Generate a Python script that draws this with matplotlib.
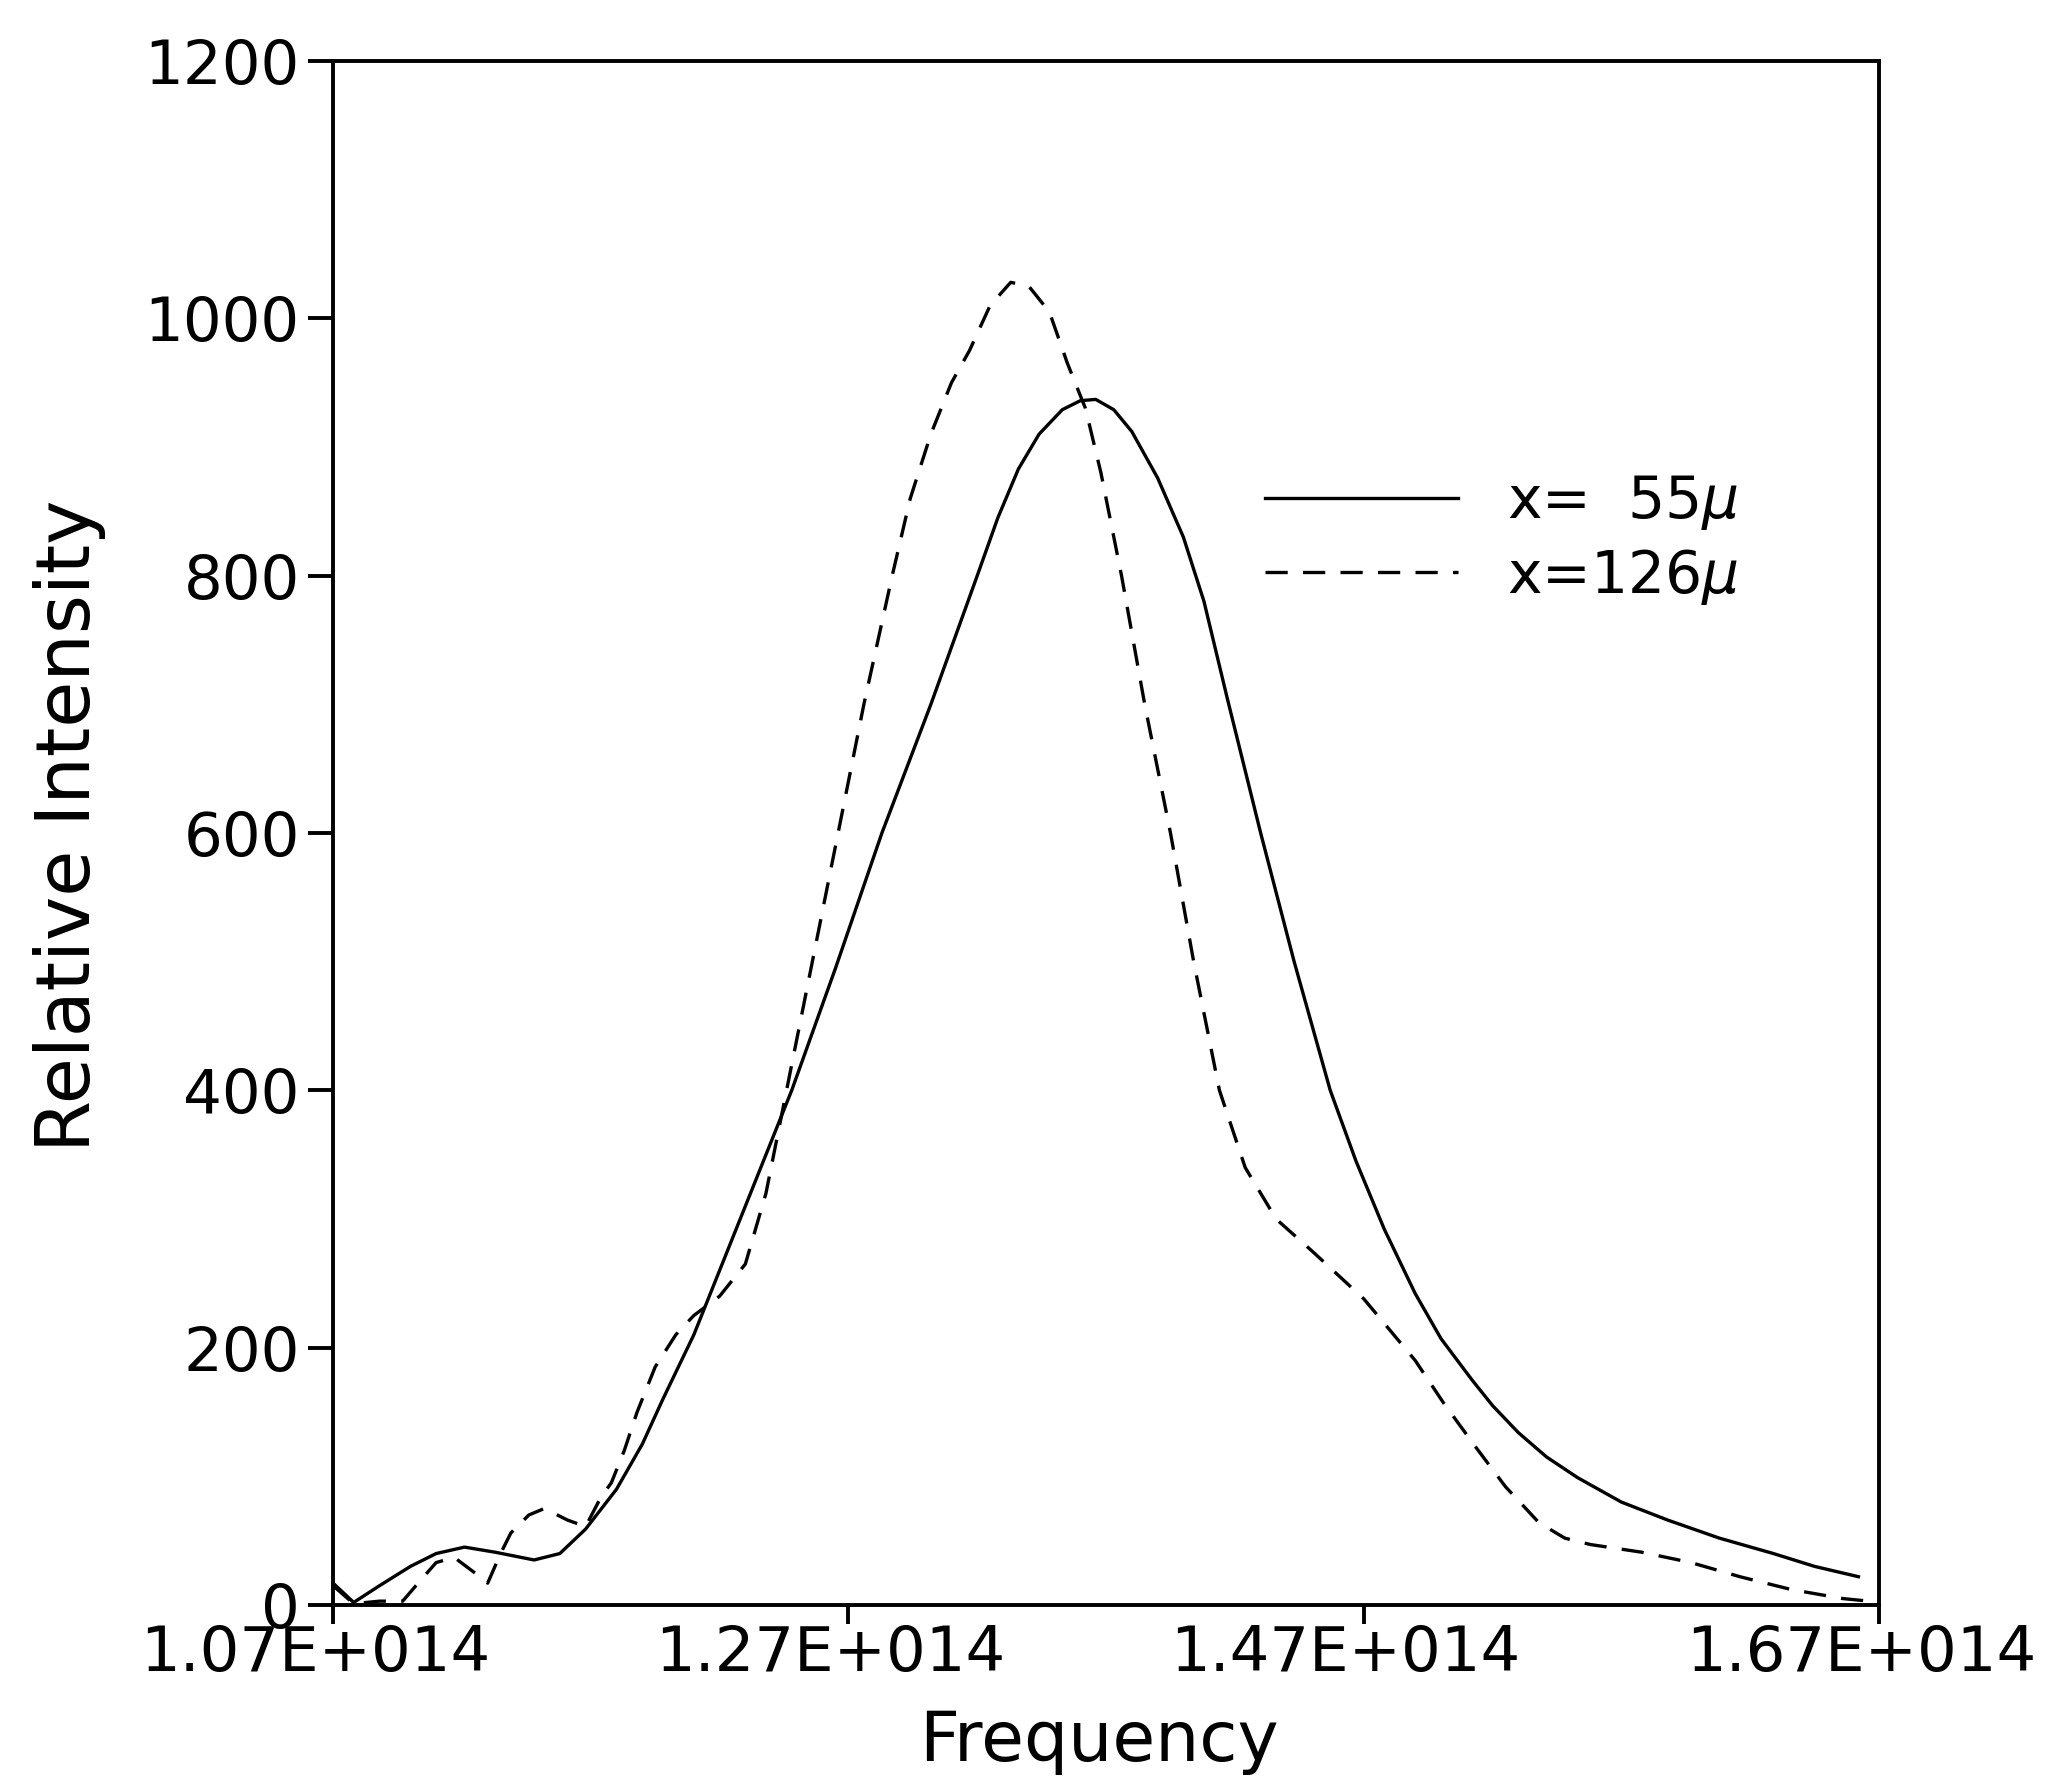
import matplotlib.pyplot as plt
import matplotlib.transforms as mtransforms
import numpy as np

# frequency in units of 1E12 Hz, intensity in arbitrary units
freq_55 = [107.0, 107.8, 108.8, 110.0, 111.0, 112.1, 113.3, 114.8, 115.8, 116.8,
           118.0, 119.0, 119.8, 121.0, 122.5, 124.0, 124.8, 126.5, 128.3, 130.2,
           132.0, 132.8, 133.6, 134.4, 135.3, 136.0, 136.6, 137.3, 138.0, 139.0,
           140.0, 140.8, 141.7, 143.0, 144.3, 145.7, 146.7, 147.8, 149.0, 150.0,
           151.2, 152.0, 153.0, 154.1, 155.3, 157.0, 158.8, 160.8, 162.9, 164.5,
           166.2]
int_55 = [17, 2, 15, 30, 40, 45, 41, 35, 40, 59,
          90, 125, 160, 210, 285, 360, 400, 495, 600, 700,
          800, 845, 883, 910, 929, 936, 937, 929, 912, 876,
          830, 780, 705, 600, 500, 400, 345, 292, 242, 207,
          175, 155, 134, 115, 99, 80, 66, 52, 40, 30,
          22]

freq_126 = [107.0, 107.8, 108.8, 109.7, 110.3, 111.0, 111.7, 112.5, 113.0, 113.5,
            113.9, 114.6, 115.2, 116.1, 116.8, 117.4, 117.8, 118.3, 118.8, 119.5,
            120.3, 121.0, 122.0, 123.0, 123.8, 124.5, 125.0, 125.8, 126.6, 127.6,
            128.7, 129.4, 130.2, 131.0, 131.7, 132.5, 133.3, 134.0, 134.8, 135.5,
            136.2, 136.8, 137.6, 138.5, 139.5, 140.4, 141.4, 142.4, 143.6, 145.0,
            147.0, 149.0, 150.1, 151.3, 152.5, 153.8, 154.8, 155.8, 157.8, 159.7,
            161.6, 163.6, 165.6, 166.6]
int_126 = [15, 1, 3, 3, 17, 33, 37, 25, 17, 40,
           56, 70, 75, 66, 61, 84, 95, 120, 150, 185,
           210, 225, 240, 265, 320, 390, 440, 520, 600, 700,
           800, 860, 910, 950, 975, 1010, 1028, 1025, 1005, 965,
           930, 880, 800, 700, 600, 500, 400, 340, 300, 275,
           238, 190, 157, 124, 92, 64, 52, 47, 41, 33,
           22, 12, 5, 3]

x_ticks = [1.07e14, 1.27e14, 1.47e14, 1.67e14]
x_tick_labels = ['1.07E+014', '1.27E+014', '1.47E+014', '1.67E+014']
y_ticks = [0, 200, 400, 600, 800, 1000, 1200]

plt.rcParams['font.family'] = ['DejaVu Sans']
plt.rcParams['lines.scale_dashes'] = False

fig = plt.figure(figsize=(20.46, 17.79), dpi=100)
ax = fig.add_axes([0.1628, 0.0978, 0.7556, 0.8679])

f55 = np.array(freq_55) * 1e12
f126 = np.array(freq_126) * 1e12
ax.plot(f55, int_55, color='black', lw=2.4, label=r'x=  55$\mu$')
ax.plot(f126, int_126, color='black', lw=2.4, dashes=(16, 11), label=r'x=126$\mu$')

ax.set_xlim(1.07e14, 1.67e14)
ax.set_ylim(0, 1200)
ax.set_xticks(x_ticks)
ax.set_xticklabels(x_tick_labels)
ax.set_yticks(y_ticks)

for s in ax.spines.values():
    s.set_linewidth(2.8)
ax.tick_params(axis='y', direction='out', length=18, width=2.8, pad=6, labelsize=44)
ax.tick_params(axis='x', direction='out', length=14, width=2.8, pad=0, labelsize=45)

# x tick labels sit a little left of their ticks in the original
shift = mtransforms.ScaledTranslation(-13 / 72, 0, fig.dpi_scale_trans)
for lab in ax.get_xticklabels():
    lab.set_transform(lab.get_transform() + shift)

fig.text(0.034, 0.536, 'Relative Intensity', rotation=90, ha='center', va='center',
         fontsize=54)
fig.text(0.537, 0.021, 'Frequency', ha='center', va='center', fontsize=50)

ax.legend(loc='upper left', bbox_to_anchor=(0.603, 0.733), frameon=False,
          fontsize=42, handlelength=3.3, handletextpad=0.85, borderpad=0,
          borderaxespad=0, labelspacing=0.25)

fig.savefig('out.png', dpi=100)
